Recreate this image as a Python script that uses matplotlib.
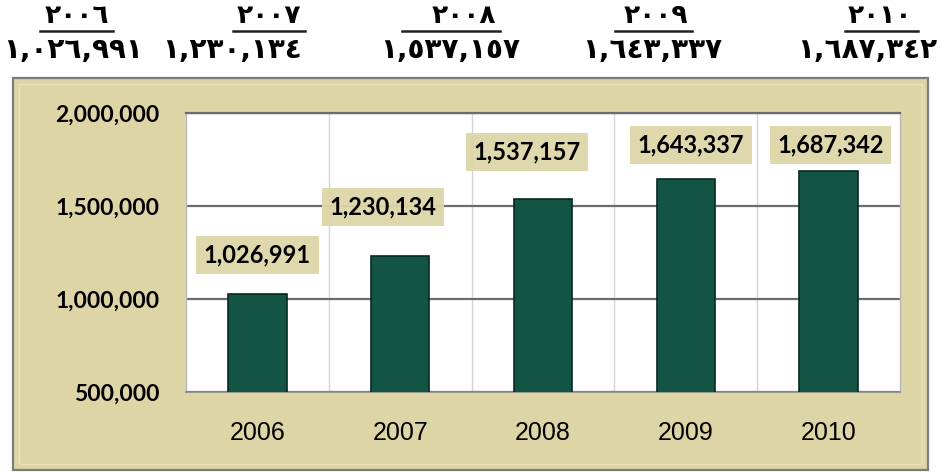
import matplotlib
matplotlib.use("Agg")
import matplotlib.pyplot as plt
from matplotlib.patches import Rectangle
from matplotlib.lines import Line2D
from matplotlib.ticker import FuncFormatter

# ---- data ----
years = ["2006", "2007", "2008", "2009", "2010"]
values = [1026991, 1230134, 1537157, 1643337, 1687342]
years_ar = ["٢٠٠٦", "٢٠٠٧", "٢٠٠٨", "٢٠٠٩", "٢٠١٠"]
values_ar = ["١,٠٢٦,٩٩١", "١,٢٣٠,١٣٤", "١,٥٣٧,١٥٧", "١,٦٤٣,٣٣٧", "١,٦٨٧,٣٤٢"]
y_ticks = [500000, 1000000, 1500000, 2000000]

W, H = 940, 473
fig = plt.figure(figsize=(W / 100, H / 100), dpi=100)
fig.patch.set_facecolor("white")

# parchment frame
frame = Rectangle((13 / W, 1 - 470 / H), 915 / W, 392 / H, transform=fig.transFigure,
                  facecolor="#ddd5a5", edgecolor="#7c7c7c", linewidth=1.6, zorder=0)
fig.add_artist(frame)
inner = Rectangle((19 / W, 1 - 464 / H), 903 / W, 380 / H, transform=fig.transFigure,
                  facecolor="none", edgecolor="#e8e2bf", linewidth=1.0, zorder=0)
fig.add_artist(inner)

ax = fig.add_axes([186 / W, 1 - 392 / H, 714 / W, 279 / H])
ax.set_facecolor("white")
x = list(range(len(years)))
ax.bar(x, values, width=0.41, color="#135444", edgecolor="#062a21", linewidth=1.2, zorder=3)

ax.set_xlim(-0.5, len(years) - 0.5)
ax.set_ylim(y_ticks[0], y_ticks[-1])
ax.set_yticks(y_ticks)
ax.yaxis.set_major_formatter(FuncFormatter(lambda v, p: f"{int(v):,}"))
ax.set_xticks(x)
ax.set_xticklabels(years)
ax.grid(axis="y", color="#6c6c6c", linewidth=1.6, zorder=1)
for b in [i + 0.5 for i in x[:-1]]:
    ax.axvline(b, color="#d4d4d4", linewidth=1.0, zorder=1)
for s in ["left", "right"]:
    ax.spines[s].set_color("#b8b8b8")
    ax.spines[s].set_linewidth(1.0)
ax.spines["top"].set_color("#6c6c6c")
ax.spines["top"].set_linewidth(1.6)
ax.spines["bottom"].set_color("#8a8a8a")
ax.spines["bottom"].set_linewidth(1.2)
ax.tick_params(axis="both", length=0)
ax.tick_params(axis="y", pad=19)
ax.tick_params(axis="x", pad=21)
for t in ax.get_yticklabels():
    t.set_fontfamily("Lato")
    t.set_fontweight("bold")
    t.set_fontsize(16.5)
for t in ax.get_xticklabels():
    t.set_fontfamily("Liberation Sans")
    t.set_fontsize(18)

# data labels (offsets in pixels relative to bar tops)
label_offsets = [(0, 39), (-17, 49), (-16, 47), (5, 34), (2, 26)]
for xi, v, (dx, dy) in zip(x, values, label_offsets):
    ax.annotate(f"{v:,}", xy=(xi, v), xytext=(dx, dy), textcoords="offset pixels",
                ha="center", va="center", fontsize=17, fontweight="bold", family="Lato",
                color="black", zorder=5,
                bbox=dict(boxstyle="square,pad=0.32", facecolor="#ddd6a8",
                          edgecolor="none", alpha=0.95))

# Arabic header (years underlined, values below) -- layout in pixels
year_cx = [77, 269, 464, 656, 880]
underline_spans = [(40, 113), (233, 305), (402, 500), (615, 692), (845, 918)]
val_cx = [71, 232, 450, 652, 870]
for yr, cx, (u0, u1) in zip(years_ar, year_cx, underline_spans):
    fig.text(cx / W, 1 - 16 / H, yr, ha="center", va="center", fontsize=19,
             fontweight="bold", family=["DejaVu Sans"])
    fig.add_artist(Line2D([u0 / W, u1 / W], [1 - 31 / H, 1 - 31 / H],
                          transform=fig.transFigure, color="#202020", linewidth=1.8))
for i, (vs, cx) in enumerate(zip(values_ar, val_cx)):
    if i == len(values_ar) - 1:
        fig.text(937 / W, 1 - 50 / H, vs, ha="right", va="center", fontsize=20,
                 fontweight="bold", family=["DejaVu Sans"])
    elif i == 0:
        fig.text(3 / W, 1 - 50 / H, vs, ha="left", va="center", fontsize=20,
                 fontweight="bold", family=["DejaVu Sans"])
    else:
        fig.text(cx / W, 1 - 50 / H, vs, ha="center", va="center", fontsize=20,
                 fontweight="bold", family=["DejaVu Sans"])

fig.savefig("out.png", dpi=100, facecolor="white")
